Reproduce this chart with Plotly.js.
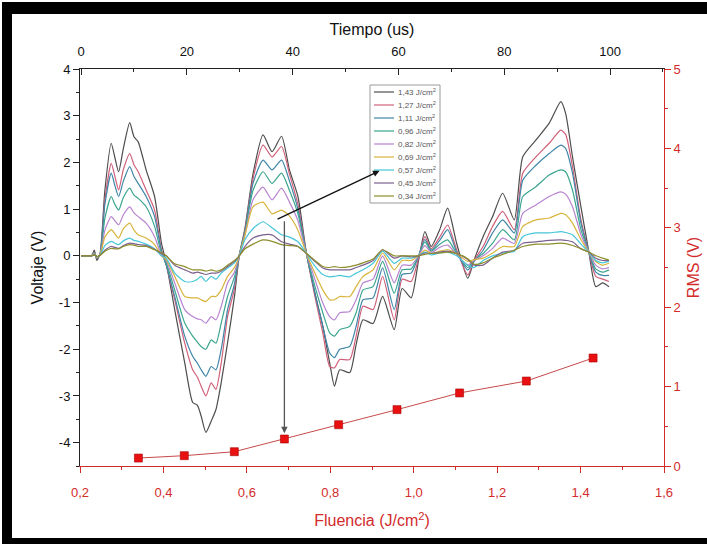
<!DOCTYPE html>
<html>
<head>
<meta charset="utf-8">
<script src="https://cdn.plot.ly/plotly-3.0.1.min.js"></script>
<style>
html,body{margin:0;padding:0;background:#fff;}
#wrap{position:relative;width:707px;height:546px;overflow:hidden;}
#plot{width:707px;height:546px;}
.bar{position:absolute;background:#000;pointer-events:none;}
</style>
</head>
<body>
<div id="wrap">
<div id="plot"></div>
<div class="bar" style="left:2px;top:2px;width:705px;height:12px;"></div>
<div class="bar" style="left:2px;top:2px;width:10px;height:542px;"></div>
<div class="bar" style="left:2px;top:538px;width:705px;height:6px;"></div>
</div>
<script>
// ---- Data ----
const tiempo = [
  0, 2, 2.5, 3, 3.6,
  4.5, 5.7, 6.4, 7.1, 8.0,
  9.2, 10.0, 10.8, 12.3, 13.9,
  15.2, 16.1, 17.7, 19.6, 21.1,
  22.0, 22.7, 23.6, 24.6, 25.5,
  26.5, 27.7, 29.0, 29.9, 31.0,
  32.5, 34.4, 36.1, 37.9, 39.4,
  41.0, 42.6, 44.2, 45.7, 47.0,
  47.9, 48.9, 50.8, 52.0, 53.3,
  55.2, 57.0, 59.2, 60.7, 62.4,
  63.8, 65.0, 66.2, 67.8, 69.3,
  71.0, 73.1, 74.3, 76.0, 77.8,
  79.7, 81.9, 83.5, 86.0, 88.5,
  90.7, 91.6, 92.9, 94.5, 96.0,
  97.3, 98.6, 99.8
];

const v143 = [
  0, 0, 0.12, -0.1, 0.05,
  1.4, 2.41, 2.1, 1.8, 2.3,
  2.85, 2.55, 2.44, 1.84, 1.27,
  0.27, -0.15, -1.15, -2.29, -3.14,
  -3.2, -3.43, -3.78, -3.54, -3.29,
  -2.71, -1.86, -0.87, 0, 0.6,
  1.75, 2.59, 2.23, 2.56, 1.84,
  1.27, 0.06, -0.79, -1.51, -2.29,
  -2.79, -2.44, -2.5, -1.9, -1.37,
  -1.45, -0.87, -1.58, -0.7, -0.9,
  -0.1, 0.52, 0.2, 0.56, 1.02,
  0.27, -0.48, -0.09, 0.41, 0.84,
  1.34, 0.77, 2.12, 2.48, 2.84,
  3.3, 3.05, 2.12, 1.05, 0.08,
  -0.66, -0.58, -0.66
];
const v127 = [
  0, 0, 0.08, -0.06, 0.03,
  1.2, 1.98, 1.7, 1.41, 1.85,
  2.19, 1.95, 1.8, 1.41, 0.98,
  0.13, -0.2, -0.94, -1.87, -2.44,
  -2.6, -2.79, -3.0, -2.72, -2.86,
  -2.29, -1.3, -0.7, 0, 0.55,
  1.65, 2.37, 2.12, 2.34, 1.75,
  1.1, 0.05, -0.87, -1.65, -2.37,
  -2.4, -2.22, -2.22, -1.72, -1.08,
  -1.15, -0.44, -1.37, -0.5, -0.55,
  -0.05, 0.41, 0.15, 0.4, 0.66,
  0.13, -0.41, -0.1, 0.2, 0.63,
  0.95, 0.56, 1.77, 2.12, 2.41,
  2.69, 2.6, 1.91, 0.77, 0.08,
  -0.44, -0.5, -0.55
];
const v111 = [
  0, 0, 0.07, -0.05, 0.03,
  1.1, 1.77, 1.5, 1.27, 1.6,
  1.91, 1.7, 1.55, 1.27, 0.84,
  0.1, -0.2, -0.87, -1.72, -2.15,
  -2.3, -2.44, -2.58, -2.37, -2.44,
  -2.0, -1.15, -0.6, 0, 0.52,
  1.55, 2.05, 1.84, 2.05, 1.6,
  1.0, 0.05, -0.8, -1.5, -2.08,
  -2.18, -2.0, -1.94, -1.51, -0.94,
  -0.9, -0.26, -1.15, -0.4, -0.37,
  0, 0.35, 0.12, 0.33, 0.56,
  0.08, -0.3, -0.12, 0.12, 0.49,
  0.77, 0.49, 1.62, 1.94, 2.19,
  2.37, 2.3, 1.77, 0.7, 0.08,
  -0.35, -0.42, -0.42
];
const v096 = [
  0, 0, 0.06, -0.04, 0.02,
  0.8, 1.27, 1.1, 0.98, 1.25,
  1.45, 1.3, 1.23, 1.05, 0.63,
  0.05, -0.15, -0.73, -1.44, -1.72,
  -1.85, -1.94, -2.0, -1.8, -1.87,
  -1.44, -0.87, -0.45, 0, 0.5,
  1.4, 1.8, 1.55, 1.77, 1.4,
  0.9, 0.05, -0.65, -1.22, -1.65,
  -1.72, -1.58, -1.51, -1.22, -0.73,
  -0.66, -0.12, -0.8, -0.3, -0.28,
  0, 0.3, 0.1, 0.25, 0.34,
  0.05, -0.25, -0.1, 0.05, 0.27,
  0.56, 0.34, 1.27, 1.48, 1.73,
  1.84, 1.8, 1.41, 0.56, 0.08,
  -0.28, -0.35, -0.3
];
const v082 = [
  0, 0, 0.05, -0.03, 0.02,
  0.55, 0.84, 0.75, 0.66, 0.88,
  1.05, 0.92, 0.84, 0.7, 0.41,
  0.02, -0.1, -0.58, -1.15, -1.3,
  -1.35, -1.37, -1.44, -1.3, -1.37,
  -1.08, -0.58, -0.35, 0, 0.45,
  1.2, 1.47, 1.2, 1.45, 1.15,
  0.75, 0.05, -0.5, -1.01, -1.3,
  -1.37, -1.22, -1.19, -0.94, -0.58,
  -0.5, 0, -0.58, -0.2, -0.2,
  0, 0.22, 0.07, 0.18, 0.23,
  0.03, -0.2, -0.1, 0, 0.16,
  0.38, 0.27, 0.91, 1.09, 1.27,
  1.37, 1.32, 1.05, 0.45, 0.08,
  -0.2, -0.28, -0.25
];
const v069 = [
  0, 0, 0.04, -0.03, 0.02,
  0.4, 0.56, 0.47, 0.38, 0.58,
  0.7, 0.55, 0.45, 0.38, 0.24,
  0, -0.08, -0.44, -0.87, -0.9,
  -0.9, -0.94, -0.98, -0.87, -0.87,
  -0.73, -0.44, -0.25, 0, 0.45,
  1.05, 1.15, 0.9, 0.98, 0.85,
  0.55, 0.05, -0.37, -0.73, -0.94,
  -0.94, -0.87, -0.87, -0.66, -0.44,
  -0.3, 0.06, -0.3, -0.1, -0.1,
  0, 0.12, 0.05, 0.1, 0.13,
  0.05, -0.12, -0.08, -0.05, 0.06,
  0.2, 0.2, 0.63, 0.77, 0.81,
  0.91, 0.88, 0.7, 0.35, 0.08,
  -0.12, -0.2, -0.16
];
const v057 = [
  0, 0, 0.03, -0.02, 0.01,
  0.22, 0.31, 0.27, 0.24, 0.32,
  0.38, 0.33, 0.31, 0.25, 0.15,
  0, -0.05, -0.37, -0.55, -0.55,
  -0.5, -0.44, -0.55, -0.44, -0.5,
  -0.37, -0.26, -0.15, 0, 0.35,
  0.58, 0.73, 0.6, 0.45, 0.4,
  0.3, 0.05, -0.22, -0.4, -0.45,
  -0.44, -0.42, -0.45, -0.37, -0.3,
  -0.16, 0.1, -0.16, -0.05, -0.05,
  0, 0.08, 0.02, 0.06, 0.08,
  0, -0.2, -0.25, -0.1, 0,
  0.06, 0.1, 0.41, 0.49, 0.49,
  0.52, 0.5, 0.45, 0.25, 0.08,
  -0.1, -0.15, -0.12
];
const v045 = [
  0, 0, 0.02, -0.02, 0.01,
  0.12, 0.2, 0.18, 0.16, 0.22,
  0.27, 0.26, 0.24, 0.22, 0.14,
  0.05, 0, -0.2, -0.3, -0.37,
  -0.35, -0.37, -0.4, -0.37, -0.37,
  -0.33, -0.23, -0.12, 0, 0.2,
  0.38, 0.45, 0.45, 0.3, 0.25,
  0.2, 0.05, -0.12, -0.26, -0.3,
  -0.3, -0.3, -0.3, -0.25, -0.2,
  -0.1, 0.13, -0.05, 0, -0.02,
  0, 0.06, 0.05, 0.08, 0.1,
  0.05, -0.08, -0.2, -0.2, -0.05,
  0.08, 0.12, 0.27, 0.3, 0.33,
  0.34, 0.33, 0.3, 0.15, 0.08,
  -0.05, -0.1, -0.1
];
const v034 = [
  0, 0, 0.02, -0.01, 0.01,
  0.1, 0.16, 0.15, 0.15, 0.2,
  0.24, 0.23, 0.2, 0.2, 0.13,
  0.07, 0, -0.17, -0.23, -0.3,
  -0.3, -0.3, -0.33, -0.3, -0.33,
  -0.3, -0.2, -0.1, 0, 0.15,
  0.25, 0.34, 0.31, 0.24, 0.22,
  0.2, 0.05, -0.1, -0.23, -0.25,
  -0.23, -0.25, -0.23, -0.2, -0.15,
  -0.07, 0.13, 0, 0, 0,
  0, 0.03, 0.05, 0.06, 0.08,
  0.05, -0.06, -0.18, -0.15, -0.05,
  0.03, 0.12, 0.2, 0.25, 0.25,
  0.27, 0.26, 0.22, 0.15, 0.08,
  0, -0.05, -0.09
];

const seriesNames = ['1,43 J/cm<sup>2</sup>', '1,27 J/cm<sup>2</sup>', '1,11 J/cm<sup>2</sup>',
  '0,96 J/cm<sup>2</sup>', '0,82 J/cm<sup>2</sup>', '0,69 J/cm<sup>2</sup>',
  '0,57 J/cm<sup>2</sup>', '0,45 J/cm<sup>2</sup>', '0,34 J/cm<sup>2</sup>'];
const seriesValues = [v143, v127, v111, v096, v082, v069, v057, v045, v034];

const fluencia = [0.34, 0.45, 0.57, 0.69, 0.82, 0.96, 1.11, 1.27, 1.43];
const rms = [0.10, 0.13, 0.18, 0.34, 0.52, 0.71, 0.92, 1.07, 1.36];

const voltTicks = [-4, -3, -2, -1, 0, 1, 2, 3, 4];
const voltTickText = ['-4', '-3', '-2', '-1', '0', '1', '2', '3', '4'];

// ---- Styles ----
const seriesColors = ['#4d4d4d', '#d0607a', '#3f86a8', '#3ba58e', '#b883d0',
  '#d8b43c', '#45c6d8', '#7d6290', '#8e8e2c'];
const RED = '#d22b2b';
const FONT = 'Liberation Sans, Arial, sans-serif';

// plot-area pixel frame
const L = 80, R = 664, T = 69, B = 466;
const px = xp => (xp - L) / (R - L);
const py = yp => (B - yp) / (B - T);

const traces = seriesValues.map((vals, i) => ({
  x: tiempo, y: vals, xaxis: 'x', yaxis: 'y',
  type: 'scatter', mode: 'lines', name: seriesNames[i],
  line: {color: seriesColors[i], width: 1.2, shape: 'spline', smoothing: 0.6},
  showlegend: false, hoverinfo: 'skip'
}));
traces.push({
  x: fluencia, y: rms, xaxis: 'x2', yaxis: 'y2', type: 'scatter', mode: 'lines+markers',
  line: {color: '#c84a4a', width: 1},
  marker: {symbol: 'square', size: 8, color: '#e81010', line: {color: '#a00', width: 0.6}},
  showlegend: false, name: 'RMS'
});

// manual legend (compact, like the reference)
const shapes = [];
const annotations = [];
shapes.push({type: 'rect', xref: 'paper', yref: 'paper', x0: px(370), x1: px(440), y0: py(203), y1: py(85),
  line: {color: '#9a9a9a', width: 1}, fillcolor: 'rgba(255,255,255,0.9)', layer: 'above'});
seriesNames.forEach((n, i) => {
  const yy = py(92 + 13 * i);
  shapes.push({type: 'line', xref: 'paper', yref: 'paper', x0: px(374), x1: px(394), y0: yy, y1: yy,
    line: {color: seriesColors[i], width: 1.2}, layer: 'above'});
  annotations.push({xref: 'paper', yref: 'paper', x: px(396), y: yy, xanchor: 'left', yanchor: 'middle',
    text: n, showarrow: false, font: {family: FONT, size: 8, color: '#555'}});
});

// arrows (fluence axis x2, voltage axis y)
annotations.push({xref: 'x2', yref: 'y', axref: 'x2', ayref: 'y', x: 0.918, y: 1.82, ax: 0.67, ay: 0.77,
  text: '', showarrow: true, arrowhead: 2, arrowsize: 1, arrowwidth: 1.3, arrowcolor: '#111'});
annotations.push({xref: 'x2', yref: 'y', axref: 'x2', ayref: 'y', x: 0.69, y: -3.8, ax: 0.69, ay: 0.77,
  text: '', showarrow: true, arrowhead: 2, arrowsize: 1, arrowwidth: 1.3, arrowcolor: '#555'});

const layout = {
  width: 707, height: 546,
  margin: {l: L, r: 707 - R, t: T, b: 546 - B, pad: 0},
  paper_bgcolor: '#fff', plot_bgcolor: '#fff',
  separators: ',.',
  font: {family: FONT, size: 13, color: '#111'},
  showlegend: false,
  xaxis: {
    side: 'top', anchor: 'y',
    range: [-0.2, 110.2], tick0: 0, dtick: 20,
    showline: true, linecolor: '#222', linewidth: 1,
    ticks: 'inside', ticklen: 6, tickcolor: '#222', ticklabelstandoff: 7,
    minor: {dtick: 10, ticks: 'inside', ticklen: 3, tickcolor: '#222'},
    tickfont: {color: '#111', size: 13, family: FONT},
    showgrid: false, zeroline: false,
    title: {text: 'Tiempo (us)', font: {color: '#111', size: 16, family: FONT}, standoff: 4},
    automargin: false
  },
  xaxis2: {
    overlaying: 'x', side: 'bottom', anchor: 'y2',
    range: [0.2, 1.6], tick0: 0.2, dtick: 0.2, tickformat: '.1f',
    showline: true, linecolor: RED, linewidth: 1,
    ticks: 'outside', ticklen: 6, tickcolor: RED, tickwidth: 1, ticklabelstandoff: 8,
    minor: {dtick: 0.1, tick0: 0.2, ticks: 'outside', ticklen: 3, tickcolor: RED},
    tickfont: {color: RED, size: 13, family: FONT},
    showgrid: false, zeroline: false,
    title: {text: 'Fluencia (J/cm<sup>2</sup>)', font: {color: RED, size: 16, family: FONT}, standoff: 16},
    automargin: false
  },
  yaxis: {
    anchor: 'x', side: 'left',
    range: [-4.5, 4], tickmode: 'array', tickvals: voltTicks, ticktext: voltTickText,
    showline: true, linecolor: '#222', linewidth: 1,
    ticks: 'outside', ticklen: 6, tickcolor: '#222',
    minor: {dtick: 0.5, tick0: 0, ticks: 'outside', ticklen: 3, tickcolor: '#222'},
    tickfont: {color: '#111', size: 13, family: FONT},
    showgrid: false, zeroline: false,
    title: {text: 'Voltaje (V)', font: {color: '#111', size: 16, family: FONT}, standoff: 11},
    automargin: false
  },
  yaxis2: {
    overlaying: 'y', side: 'right', anchor: 'x2',
    range: [0, 5], dtick: 1, tick0: 0,
    showline: true, linecolor: RED, linewidth: 1,
    ticks: 'outside', ticklen: 6, tickcolor: RED,
    minor: {dtick: 0.5, ticks: 'outside', ticklen: 3, tickcolor: RED},
    tickfont: {color: RED, size: 13, family: FONT},
    showgrid: false, zeroline: false,
    title: {text: 'RMS (V)', font: {color: RED, size: 16, family: FONT}, standoff: 7},
    automargin: false
  },
  shapes: shapes,
  annotations: annotations
};

Plotly.newPlot('plot', traces, layout, {displayModeBar: false, staticPlot: true});
</script>
</body>
</html>
